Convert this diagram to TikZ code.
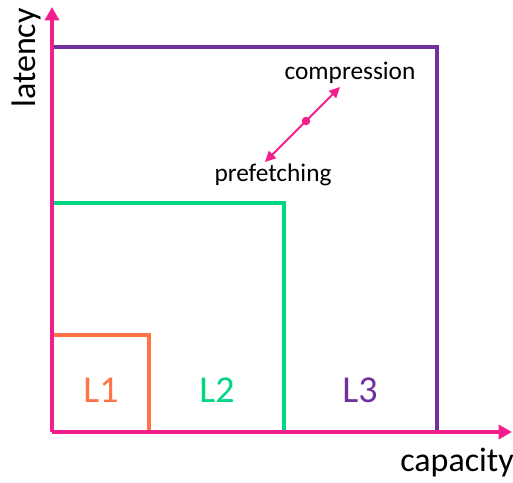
\documentclass[tikz,border=0pt]{standalone}
\usepackage{fontspec}
\setmainfont{Carlito}
\usetikzlibrary{arrows.meta, calc, positioning}

\definecolor{axispink}{RGB}{242,30,140}
\definecolor{lonecol}{RGB}{255,115,70}
\definecolor{ltwocol}{RGB}{0,215,130}
\definecolor{lthreecol}{RGB}{112,48,160}

\tikzset{
	axis/.style={draw=axispink, line width=3pt, -{Triangle[length=10pt,width=10.5pt]}},
	level/.style={line width=2.6pt},
	lvllabel/.style={font=\fontsize{28.5}{30}\selectfont},
	axlabel/.style={font=\fontsize{25.5}{28}\selectfont},
	tradeoff/.style={draw=axispink, line width=1.5pt, {Triangle[length=8pt,width=7.5pt]}-{Triangle[length=8pt,width=7.5pt]}},
	tlabel/.style={font=\fontsize{19}{20}\selectfont}
}

\begin{document}
\begin{tikzpicture}[x=0.75pt, y=-0.75pt]
		\useasboundingbox (0,0) rectangle (513,482);
		\coordinate (O) at (52,432);
		\coordinate (xend) at (512,432);
		\coordinate (yend) at (52,7);
		% cache levels
		\draw[level, lonecol] (52,335) -- (149,335) -- (149,432);
		\draw[level, ltwocol] (52,203) -- (284,203) -- (284,432);
		\draw[level, lthreecol] (52,47) -- (437,47) -- (437,432);
		\node[lvllabel, text=lonecol] (lone) at (101,390) {L1};
		\node[lvllabel, text=ltwocol] (ltwo) at (217,390) {L2};
		\node[lvllabel, text=lthreecol] (lthree) at (360,390) {L3};
		% axes
		\draw[axis] (O) -- (xend);
		\draw[axis] (O) -- (yend);
		\node[axlabel, rotate=90] (lat) at (26,58) {latency};
		\node[axlabel] (cap) at (457,463) {capacity};
		% trade-off
		\coordinate (pf) at (265,162);
		\coordinate (cp) at (340,87);
		\draw[tradeoff] (pf) -- (cp);
		\fill[axispink] (306,121) circle (3.2pt);
		\node[tlabel] (comp) at (350,73) {compression};
		\node[tlabel] (pref) at (273,175) {prefetching};
	\end{tikzpicture}
\end{document}
